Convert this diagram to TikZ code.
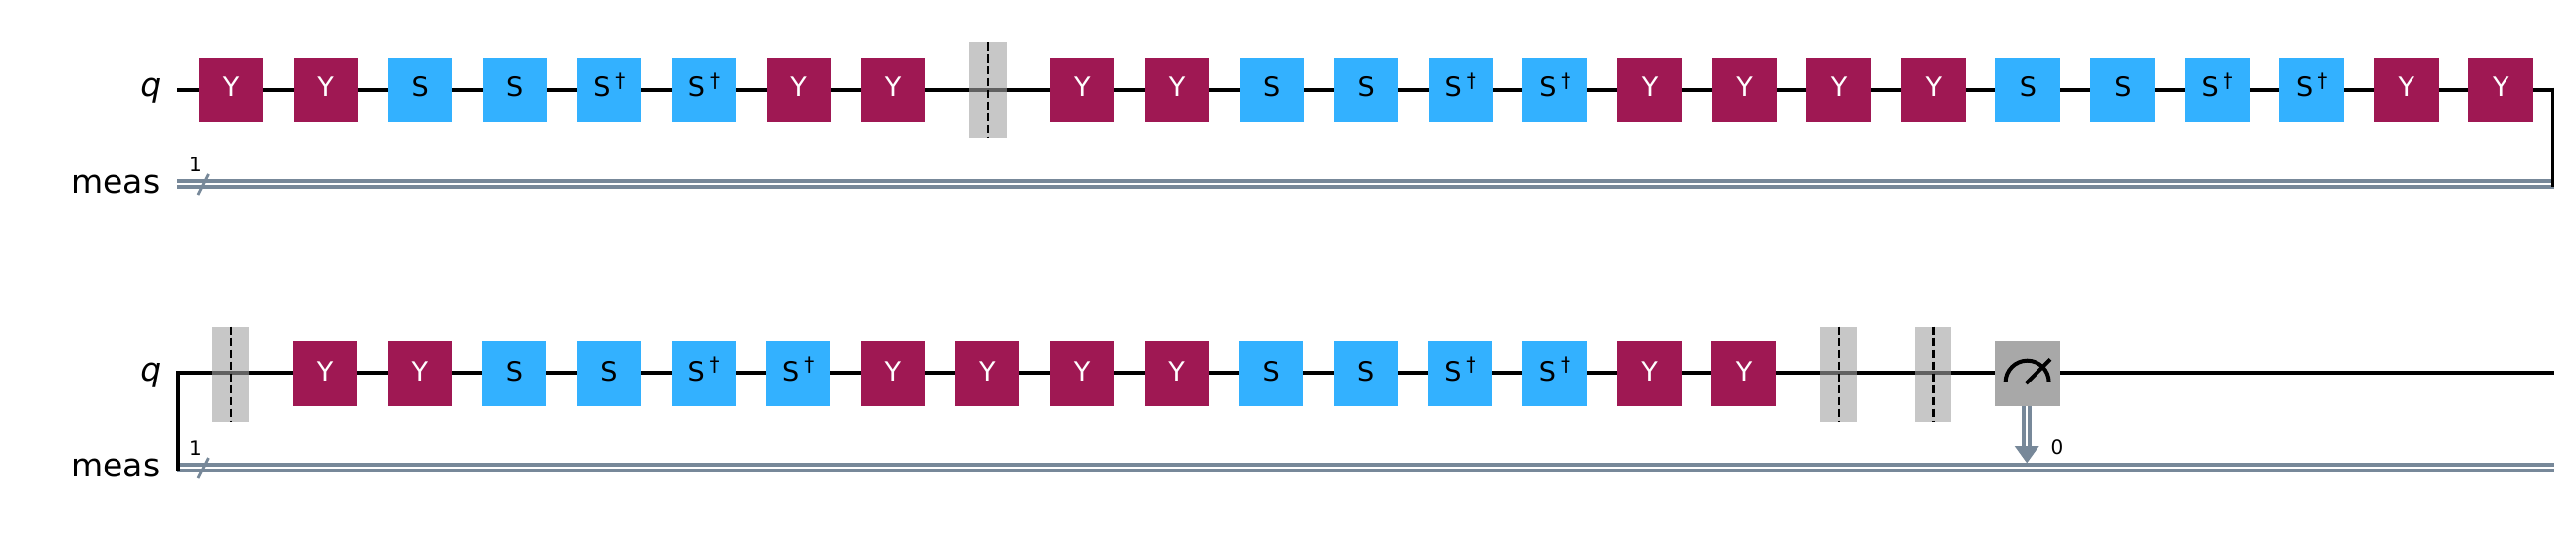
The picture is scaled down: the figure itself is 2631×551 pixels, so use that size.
\documentclass[tikz,border=0pt]{standalone}
\usepackage{fontspec}
\setmainfont{DejaVu Sans}
\usetikzlibrary{backgrounds}
\definecolor{ygate}{HTML}{9F1853}
\definecolor{sgate}{HTML}{33B1FF}
\definecolor{mgate}{HTML}{A8A8A8}
\definecolor{cwire}{HTML}{778899}
\definecolor{barfill}{HTML}{A3A3A3}
\newcommand\txtY{Y}
\newcommand\txtS{S}
\newcommand\txtD{S\hspace{5pt}\raisebox{9.5pt}{\fontsize{20}{20}\selectfont †}}
\newcommand\txtB{}
\newcommand\txtM{}
\tikzset{
  x=1pt,y=-1pt,
  gatebox/.style={minimum width=66pt,minimum height=66pt,inner sep=0pt,outer sep=0pt,
    text height=14pt,text depth=0pt,font=\fontsize{27}{27}\selectfont},
  gateY/.style={gatebox,fill=ygate,text=white},
  gateS/.style={gatebox,fill=sgate,text=black},
  gateD/.style={gatebox,fill=sgate,text=black},
  gateM/.style={gatebox,fill=mgate},
  gateB/.style={minimum width=37.5pt,minimum height=97pt,inner sep=0pt,outer sep=0pt,
    fill=barfill,fill opacity=.6},
  qwire/.style={line width=4pt,black,line join=miter},
  cdouble/.style={draw=cwire,line width=4pt,double=white,double distance=2pt},
  slashline/.style={cwire,line width=2.7pt},
  barline/.style={black,line width=2.2pt,dash pattern=on 8.5pt off 3.5pt},
  regname/.style={anchor=base east,inner sep=0pt,font=\fontsize{33}{33}\selectfont},
  smalltxt/.style={anchor=base,inner sep=0pt,font=\fontsize{20}{20}\selectfont},
  meter/.style={black,line width=4pt},
}
\begin{document}
\begin{tikzpicture}
\useasboundingbox (0,0) rectangle (2631,551);
% end points of the wires
\coordinate (qAs) at (181,91.7);
\coordinate (qAe) at (2607,91.7);
\coordinate (cAs) at (181,188);
\coordinate (cAe) at (2609,188);
\coordinate (cAb) at (2607,191);
\coordinate (qBs) at (182,381);
\coordinate (qBe) at (2609,381);
\coordinate (cBs) at (181,478);
\coordinate (cBe) at (2609,478);
\coordinate (cBb) at (182,481);
\coordinate (qAc) at (2607,89.7);
\coordinate (qBc) at (182,379);
% register labels
\node[regname] (nqA) at (164.5,99) {\itshape q};
\node[regname] (nmA) at (163.5,197.3) {meas};
\node[regname] (nqB) at (164.5,389) {\itshape q};
\node[regname] (nmB) at (163.5,487.5) {meas};
% gates, first row
\foreach \k [count=\i from 0] in {Y,Y,S,S,D,D,Y,Y,B,Y,Y,S,S,D,D,Y,Y,Y,Y,S,S,D,D,Y,Y}{
  \node[style=gate\k] (a\i) at ({236+96.6*\i},92) {\csname txt\k\endcsname};
}
% gates, second row
\foreach \k [count=\i from 0] in {B,Y,Y,S,S,D,D,Y,Y,Y,Y,S,S,D,D,Y,Y,B,B,M}{
  \node[style=gate\k] (b\i) at ({235.6+96.6*\i},382) {\csname txt\k\endcsname};
}
% quantum wires beneath the gates
\begin{pgfonlayer}{background}
  \fill[white] (0,0) rectangle (2631,551);
  \draw[qwire] (qAs) -- (a0.center |- qAs);
  \foreach \i [remember=\i as \j (initially 0)] in {1,...,24}{
    \draw[qwire] (a\j.center |- qAs) -- (a\i.center |- qAs);
  }
  \draw[qwire] (a24.center |- qAs) -- (qAe);
  \draw[qwire] (qBs) -- (b0.center |- qBs);
  \foreach \i [remember=\i as \j (initially 0)] in {1,...,19}{
    \draw[qwire] (b\j.center |- qBs) -- (b\i.center |- qBs);
  }
  \draw[qwire] (b19.center |- qBs) -- (qBe);
\end{pgfonlayer}
% classical wires
\draw[cdouble] (cAs) -- (cAe);
\draw[cdouble] (cBs) -- (cBe);
% wrap connectors
\draw[qwire] (qAc) -- (cAb);
\draw[qwire] (qBc) -- (cBb);
% barrier dashes
\foreach \n in {a8,b0,b17,b18}{
  \draw[barline] (\n.north) -- (\n.south);
}
% register width marks
\coordinate (slAa) at (202,199);
\coordinate (slAb) at (212.5,178);
\coordinate (slBa) at (202,489);
\coordinate (slBb) at (212.5,468);
\draw[slashline] (slAa) -- (slAb);
\draw[slashline] (slBa) -- (slBb);
\node[smalltxt] (wA) at (199.5,175) {1};
\node[smalltxt] (wB) at (199.5,465.5) {1};
% meter symbol
\draw[meter] (2048.6,390.7) arc[start angle=180,end angle=360,x radius=22,y radius=22];
\coordinate (nA) at (2069.3,392);
\coordinate (nB) at (2094,367.3);
\draw[meter] (nA) -- (nB);
% measurement connector
\coordinate (hT) at (2070.2,473.3);
\coordinate (hM) at (2070.2,457);
\coordinate (hL) at (2057.7,456);
\coordinate (hR) at (2082.7,456);
\draw[draw=cwire,line width=4pt,double=white,double distance=2pt] (b19.south -| hM) -- (hM);
\fill[cwire] (hL) -- (hR) -- (hT) -- cycle;
\node[smalltxt] (cbit) at (2101,464.7) {0};
\end{tikzpicture}
\end{document}
